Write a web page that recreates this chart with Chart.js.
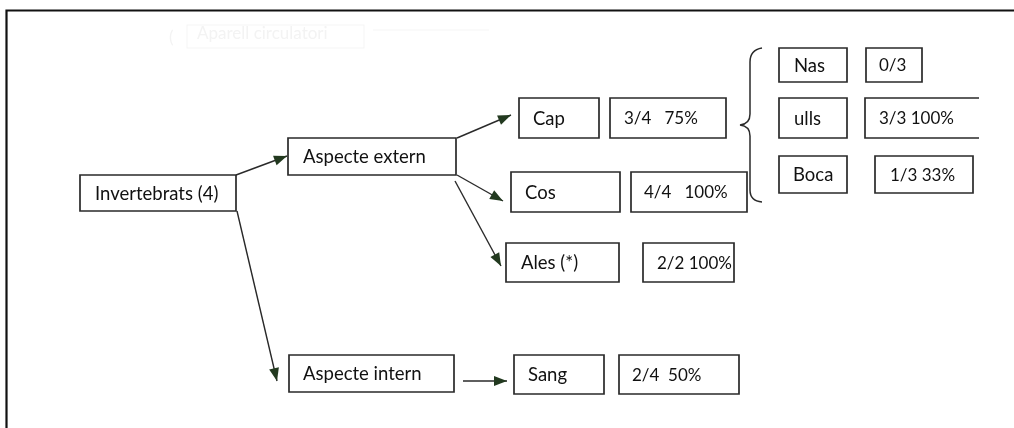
<!DOCTYPE html>
<html>
<head>
<meta charset="utf-8">
<script src="https://cdn.jsdelivr.net/npm/chart.js@4/dist/chart.umd.min.js"></script>
<style>
  html, body { margin: 0; padding: 0; background: #fff; }
  #diagram { display: block; }
</style>
</head>
<body>
<canvas id="diagram" width="1014" height="428"></canvas>
<script>
// Nodes of the scheme (labels only)
const nodeLabels = ['Invertebrats (4)', 'Aspecte extern', 'Aspecte intern',
  'Cap', 'Cos', 'Ales (*)', 'Sang', 'Nas', 'ulls', 'Boca'];

// Results: encerts / total, and whether the % is written
const hits    = [3, 4, 2, 2, 0, 3, 1];
const totals  = [4, 4, 2, 4, 3, 3, 3];
const showPct = [true, true, true, true, false, true, true];
const gaps    = ['   ', '   ', ' ', '  ', '', ' ', ' '];

const resultLabels = hits.map((h, i) =>
  showPct[i] ? `${h}/${totals[i]}${gaps[i]}${Math.round(h / totals[i] * 100)}%` : `${h}/${totals[i]}`);

/* ========== LAYOUT (diagram units = page px) ========== */
// [x0, y0, x1, y1, textX, openRight]
const nodeLayout = [
  [80, 175, 236, 211, 95],
  [288, 138, 456, 175, 303],
  [289, 355, 454, 392, 303],
  [519, 98, 599, 138, 533],
  [511, 172, 620, 212, 525],
  [506, 243, 619, 282, 521],
  [514, 355, 604, 394, 528],
  [779, 48, 847, 82, 794],
  [779, 98, 847, 138, 794],
  [779, 156, 847, 193, 793]
];
const resultLayout = [
  [610, 98, 726, 138, 624],
  [631, 172, 747, 212, 644],
  [643, 243, 734, 282, 657],
  [619, 355, 739, 394, 632],
  [866, 48, 922, 82, 879],
  [865, 98, 979, 138, 879, true],
  [875, 156, 973, 193, 890]
];
// arrows: [fromX, fromY, toX, toY]
const arrows = [
  [236, 175, 287, 156],
  [237, 211, 277, 381],
  [457, 138, 511, 115],
  [457, 175, 503, 201],
  [455, 181, 501, 266],
  [463, 381, 507, 381]
];

const LINE = '#2a2a2a';
const HEAD = '#22391f';
const FONT = '18.5px Lato, "Open Sans", sans-serif';
const FONT_RESULT = '17px Lato, "Open Sans", sans-serif';

const arrowDatasets = arrows.map(a => ({
  data: [{ x: a[0], y: a[1] }, { x: a[2], y: a[3] }],
  showLine: true,
  borderColor: LINE,
  borderWidth: 1.4,
  pointRadius: 0,
  fill: false
}));

function box(ctx, xs, ys, b) {
  const x0 = xs.getPixelForValue(b[0]), y0 = ys.getPixelForValue(b[1]);
  const x1 = xs.getPixelForValue(b[2]), y1 = ys.getPixelForValue(b[3]);
  ctx.beginPath();
  if (b[5]) {
    ctx.moveTo(x1, y0); ctx.lineTo(x0, y0); ctx.lineTo(x0, y1); ctx.lineTo(x1, y1);
  } else {
    ctx.rect(x0, y0, x1 - x0, y1 - y0);
  }
  ctx.stroke();
}

function label(ctx, xs, ys, b, txt) {
  ctx.fillText(txt, xs.getPixelForValue(b[4]), ys.getPixelForValue((b[1] + b[3]) / 2 + 1));
}

const schemePlugin = {
  id: 'scheme',
  beforeDatasetsDraw(chart) {
    const { ctx, scales: { x, y } } = chart;
    ctx.save();
    // sheet frame (top + left edges)
    ctx.strokeStyle = '#111';
    ctx.lineWidth = 2.2;
    ctx.beginPath();
    ctx.moveTo(x.getPixelForValue(6.5), y.getPixelForValue(428));
    ctx.lineTo(x.getPixelForValue(6.5), y.getPixelForValue(10.5));
    ctx.lineTo(x.getPixelForValue(1014), y.getPixelForValue(10.5));
    ctx.stroke();

    // faint bleed-through from the other side of the page
    ctx.strokeStyle = '#f5f5f5';
    ctx.lineWidth = 1;
    ctx.strokeRect(x.getPixelForValue(187), y.getPixelForValue(25), 177, 23);
    ctx.beginPath();
    ctx.moveTo(x.getPixelForValue(373), y.getPixelForValue(30));
    ctx.lineTo(x.getPixelForValue(489), y.getPixelForValue(30));
    ctx.stroke();
    ctx.fillStyle = '#f3f3f3';
    ctx.font = '17px Lato, sans-serif';
    ctx.textBaseline = 'middle';
    ctx.fillText('Aparell circulatori', x.getPixelForValue(197), y.getPixelForValue(34));
    ctx.fillText('(', x.getPixelForValue(169), y.getPixelForValue(38));

    // boxes
    ctx.strokeStyle = LINE;
    ctx.lineWidth = 1.7;
    nodeLayout.forEach(b => box(ctx, x, y, b));
    resultLayout.forEach(b => box(ctx, x, y, b));

    // brace grouping Nas / ulls / Boca
    const P = (px, py) => [x.getPixelForValue(px), y.getPixelForValue(py)];
    ctx.lineWidth = 1.5;
    ctx.beginPath();
    ctx.moveTo(...P(762, 48));
    ctx.quadraticCurveTo(...P(750, 50), ...P(750, 62));
    ctx.lineTo(...P(750, 114));
    ctx.quadraticCurveTo(...P(750, 124), ...P(740, 125));
    ctx.quadraticCurveTo(...P(750, 126), ...P(750, 136));
    ctx.lineTo(...P(750, 190));
    ctx.quadraticCurveTo(...P(750, 201), ...P(762, 202));
    ctx.stroke();

    // texts
    ctx.fillStyle = '#111';
    ctx.textBaseline = 'middle';
    ctx.font = FONT;
    nodeLayout.forEach((b, i) => label(ctx, x, y, b, nodeLabels[i]));
    ctx.font = FONT_RESULT;
    resultLayout.forEach((b, i) => label(ctx, x, y, b, resultLabels[i]));
    ctx.restore();
  },
  afterDatasetsDraw(chart) {
    const { ctx, scales: { x, y } } = chart;
    ctx.save();
    ctx.fillStyle = HEAD;
    arrows.forEach(a => {
      const x0 = x.getPixelForValue(a[0]), y0 = y.getPixelForValue(a[1]);
      const x1 = x.getPixelForValue(a[2]), y1 = y.getPixelForValue(a[3]);
      const ang = Math.atan2(y1 - y0, x1 - x0);
      const len = 13, half = 5;
      ctx.beginPath();
      ctx.moveTo(x1, y1);
      ctx.lineTo(x1 - len * Math.cos(ang) + half * Math.sin(ang), y1 - len * Math.sin(ang) - half * Math.cos(ang));
      ctx.lineTo(x1 - len * Math.cos(ang) - half * Math.sin(ang), y1 - len * Math.sin(ang) + half * Math.cos(ang));
      ctx.closePath();
      ctx.fill();
    });
    ctx.restore();
  }
};

new Chart(document.getElementById('diagram'), {
  type: 'scatter',
  data: { datasets: arrowDatasets },
  options: {
    responsive: false,
    animation: false,
    events: [],
    layout: { padding: 0 },
    plugins: { legend: { display: false }, tooltip: { enabled: false } },
    scales: {
      x: { type: 'linear', min: 0, max: 1014, display: false },
      y: { type: 'linear', min: 0, max: 428, reverse: true, display: false }
    }
  },
  plugins: [schemePlugin]
});
</script>
</body>
</html>
